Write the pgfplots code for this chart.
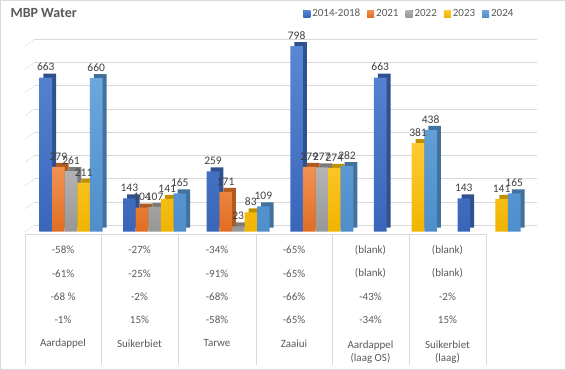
\documentclass[border=0pt]{standalone}
\usepackage{pgfplots}
\pgfplotsset{compat=1.18}
\usepackage{pgfplotstable}
\usepackage{fontspec}
\setmainfont{Carlito}
\definecolor{cA}{HTML}{4472C4}\definecolor{cAs}{HTML}{2F528F}\definecolor{cAt}{HTML}{5A86D6}\definecolor{cAb}{HTML}{3A66BA}
\definecolor{cB}{HTML}{ED7D31}\definecolor{cBs}{HTML}{AE5A21}\definecolor{cBt}{HTML}{F39152}\definecolor{cBb}{HTML}{E06E22}
\definecolor{cC}{HTML}{A5A5A5}\definecolor{cCs}{HTML}{7B7B7B}\definecolor{cCt}{HTML}{B4B4B4}\definecolor{cCb}{HTML}{979797}
\definecolor{cD}{HTML}{FFC000}\definecolor{cDs}{HTML}{BF9000}\definecolor{cDt}{HTML}{FFCB33}\definecolor{cDb}{HTML}{F0B400}
\definecolor{cE}{HTML}{5B9BD5}\definecolor{cEs}{HTML}{41719C}\definecolor{cEt}{HTML}{6CA7DD}\definecolor{cEb}{HTML}{4E8ECB}
\definecolor{gridc}{HTML}{D9D9D9}
\definecolor{txt}{HTML}{595959}
\definecolor{lbl}{HTML}{404040}
\pgfplotstableread{
x a b c d e
0 663 279 261 211 660
1 143 104 107 141 165
2 259 171 23 83 109
3 798 279 277 274 282
4 663 nan nan 381 438
5 143 nan nan 141 165
}\data
\begin{document}
\begin{tikzpicture}
\useasboundingbox (0,0) rectangle (566pt,370pt);
\draw[gridc] (0.5pt,0.5pt) rectangle (565.5pt,369.5pt);
% title
\node[anchor=west, font=\bfseries\fontsize{14}{14}\selectfont, text=txt] at (7pt,357pt) {MBP Water};
% slanted left ends of the gridlines
\foreach \k in {0,...,8} {
  \draw[gridc] (25pt,{(370-39-23.25*\k-7)*1pt}) -- (35pt,{(370-39-23.25*\k)*1pt});
}
\begin{axis}[
  scale only axis,
  width=501.6pt, height=186pt,
  at={(29.2pt,138.3pt)}, anchor=south west,
  xmin=-0.5, xmax=5.5, ymin=0, ymax=800,
  ybar, bar width=12.6pt,
  clip=false,
  /pgf/number format/assume math mode=true,
  axis line style={draw=none},
  tick style={draw=none},
  xtick=\empty,
  ytick={0,100,...,800}, yticklabels={},
  ymajorgrids,
  major grid style={draw=gridc, xshift=5.8pt, yshift=6.7pt},
  every node near coord/.append style={font=\fontsize{11.5}{11.5}\selectfont, text=lbl, yshift=3pt},
  legend image code/.code={\fill[#1] (0pt,-3.5pt) rectangle (7pt,3.5pt);},
  legend style={at={(axis description cs:0.546,1.173)}, anchor=west, draw=none, fill=none,
    font=\fontsize{11}{11}\selectfont, text=txt, legend columns=5,
    /tikz/every even column/.append style={column sep=5pt},
    inner sep=0pt},
]
% back copies (3D side/top)
\addplot[forget plot, fill=cAs, draw=none, bar shift=-25.2pt, xshift=4pt, yshift=4pt] table[x=x,y=a]{\data};
\addplot[forget plot, fill=cBs, draw=none, bar shift=-12.6pt, xshift=4pt, yshift=4pt] table[x=x,y=b]{\data};
\addplot[forget plot, fill=cCs, draw=none, bar shift=0pt, xshift=4pt, yshift=4pt] table[x=x,y=c]{\data};
\addplot[forget plot, fill=cDs, draw=none, bar shift=12.6pt, xshift=4pt, yshift=4pt] table[x=x,y=d]{\data};
\addplot[forget plot, fill=cEs, draw=none, bar shift=25.2pt, xshift=4pt, yshift=4pt] table[x=x,y=e]{\data};
% front faces
\addplot[top color=cAt, bottom color=cAb, draw=none, bar shift=-25.2pt, nodes near coords] table[x=x,y=a]{\data};
\addplot[top color=cBt, bottom color=cBb, draw=none, bar shift=-12.6pt, nodes near coords] table[x=x,y=b]{\data};
\addplot[top color=cCt, bottom color=cCb, draw=none, bar shift=0pt, nodes near coords] table[x=x,y=c]{\data};
\addplot[top color=cDt, bottom color=cDb, draw=none, bar shift=12.6pt, nodes near coords] table[x=x,y=d]{\data};
\addplot[top color=cEt, bottom color=cEb, draw=none, bar shift=25.2pt, nodes near coords] table[x=x,y=e]{\data};
\legend{2014-2018,2021,2022,2023,2024}
\end{axis}
% table below
\draw[gridc] (25pt,135.7pt) -- (486pt,135.7pt);
\foreach \xx in {25,101,178,256,332,409,486} {
  \draw[gridc] (\xx pt,135.7pt) -- (\xx pt,5pt);
}
\begin{scope}[every node/.style={font=\fontsize{11}{13}\selectfont, text=txt, align=center}]
\foreach \cx/\pa/\pb/\pc/\pd in {63/-58\%/-61\%/-68 \%/-1\%, 139.5/-27\%/-25\%/-2\%/15\%, 217/-34\%/-91\%/-68\%/-58\%, 294/-65\%/-65\%/-66\%/-65\%, 370.5/(blank)/(blank)/-43\%/-34\%, 447.5/(blank)/(blank)/-2\%/15\%} {
  \node at (\cx pt,120pt) {\pa};
  \node at (\cx pt,96.7pt) {\pb};
  \node at (\cx pt,73.3pt) {\pc};
  \node at (\cx pt,50pt) {\pd};
}
\node at (63pt,26.7pt) {Aardappel};
\node at (139.5pt,26.7pt) {Suikerbiet};
\node at (217pt,26.7pt) {Tarwe};
\node at (294pt,26.7pt) {Zaaiui};
\node[anchor=north] at (370.5pt,33pt) {Aardappel\\(laag OS)};
\node[anchor=north] at (447.5pt,33pt) {Suikerbiet\\(laag)};
\end{scope}
\end{tikzpicture}
\end{document}
